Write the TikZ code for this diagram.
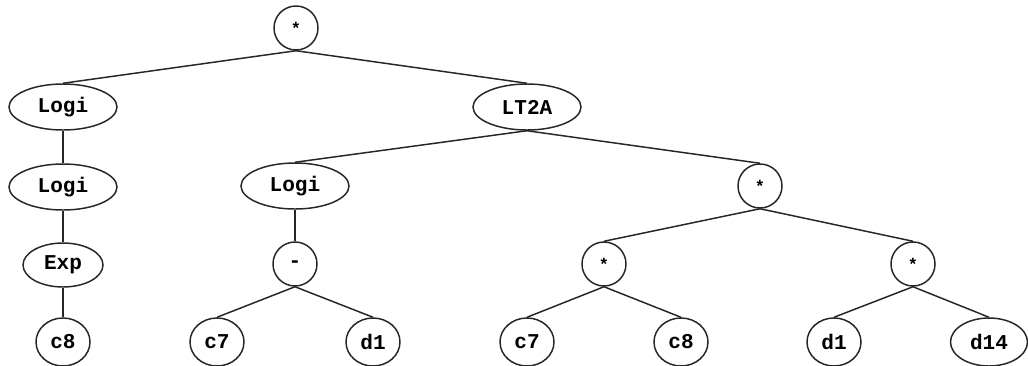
\documentclass[tikz,border=0pt]{standalone}
\usepackage{fontspec}
\setmonofont{Liberation Mono}
\usetikzlibrary{shapes.geometric}

\newcommand{\opstar}{\raisebox{-.3ex}{\fontsize{12}{12}\selectfont *}}

\begin{document}
\begin{tikzpicture}[
  x=.25mm, y=-.25mm,
  font=\ttfamily\bfseries\fontsize{15}{15}\selectfont,
  oval/.style={ellipse, draw=black!85, line width=1.05pt, inner sep=0pt,
               minimum width=27mm, minimum height=11.5mm},
  opr/.style={oval, minimum width=11mm, minimum height=11mm},
  leaf/.style={oval, minimum width=13.5mm, minimum height=12mm},
  ln/.style={draw=black!85, line width=1.05pt},
]
\useasboundingbox (0,0) rectangle (1028,365);

\node[opr] (top) at (296,28) {\opstar};

\node[oval] (lg1) at (63,107) {Logi};
\node[oval] (lt)  at (527,107) {LT2A};

\node[oval] (lg2) at (63,187) {Logi};
\node[oval] (lg3) at (295,186) {Logi};
\node[opr]  (mul) at (760,186) {\opstar};

\node[oval, minimum width=20mm, minimum height=11mm] (ex) at (63,265) {Exp};
\node[opr] (sub)  at (295,264) {-};
\node[opr] (mulL) at (604,264) {\opstar};
\node[opr] (mulR) at (913,264) {\opstar};

\node[leaf] (c8a) at (63,342) {c8};
\node[leaf] (c7a) at (217,342) {c7};
\node[leaf] (d1a) at (373,342) {d1};
\node[leaf] (c7b) at (527,342) {c7};
\node[leaf] (c8b) at (681,342) {c8};
\node[leaf] (d1b) at (834,342) {d1};
\node[leaf, minimum width=19.25mm] (d14) at (989,342) {d14};

\draw[ln] (top.south) -- (lg1.north);
\draw[ln] (top.south) -- (lt.north);
\draw[ln] (lg1) -- (lg2);
\draw[ln] (lg2) -- (ex);
\draw[ln] (ex) -- (c8a);
\draw[ln] (lt.south) -- (lg3.north);
\draw[ln] (lt.south) -- (mul.north);
\draw[ln] (lg3) -- (sub);
\draw[ln] (sub.south) -- (c7a.north);
\draw[ln] (sub.south) -- (d1a.north);
\draw[ln] (mul.south) -- (mulL.north);
\draw[ln] (mul.south) -- (mulR.north);
\draw[ln] (mulL.south) -- (c7b.north);
\draw[ln] (mulL.south) -- (c8b.north);
\draw[ln] (mulR.south) -- (d1b.north);
\draw[ln] (mulR.south) -- (d14.north);
\end{tikzpicture}
\end{document}
